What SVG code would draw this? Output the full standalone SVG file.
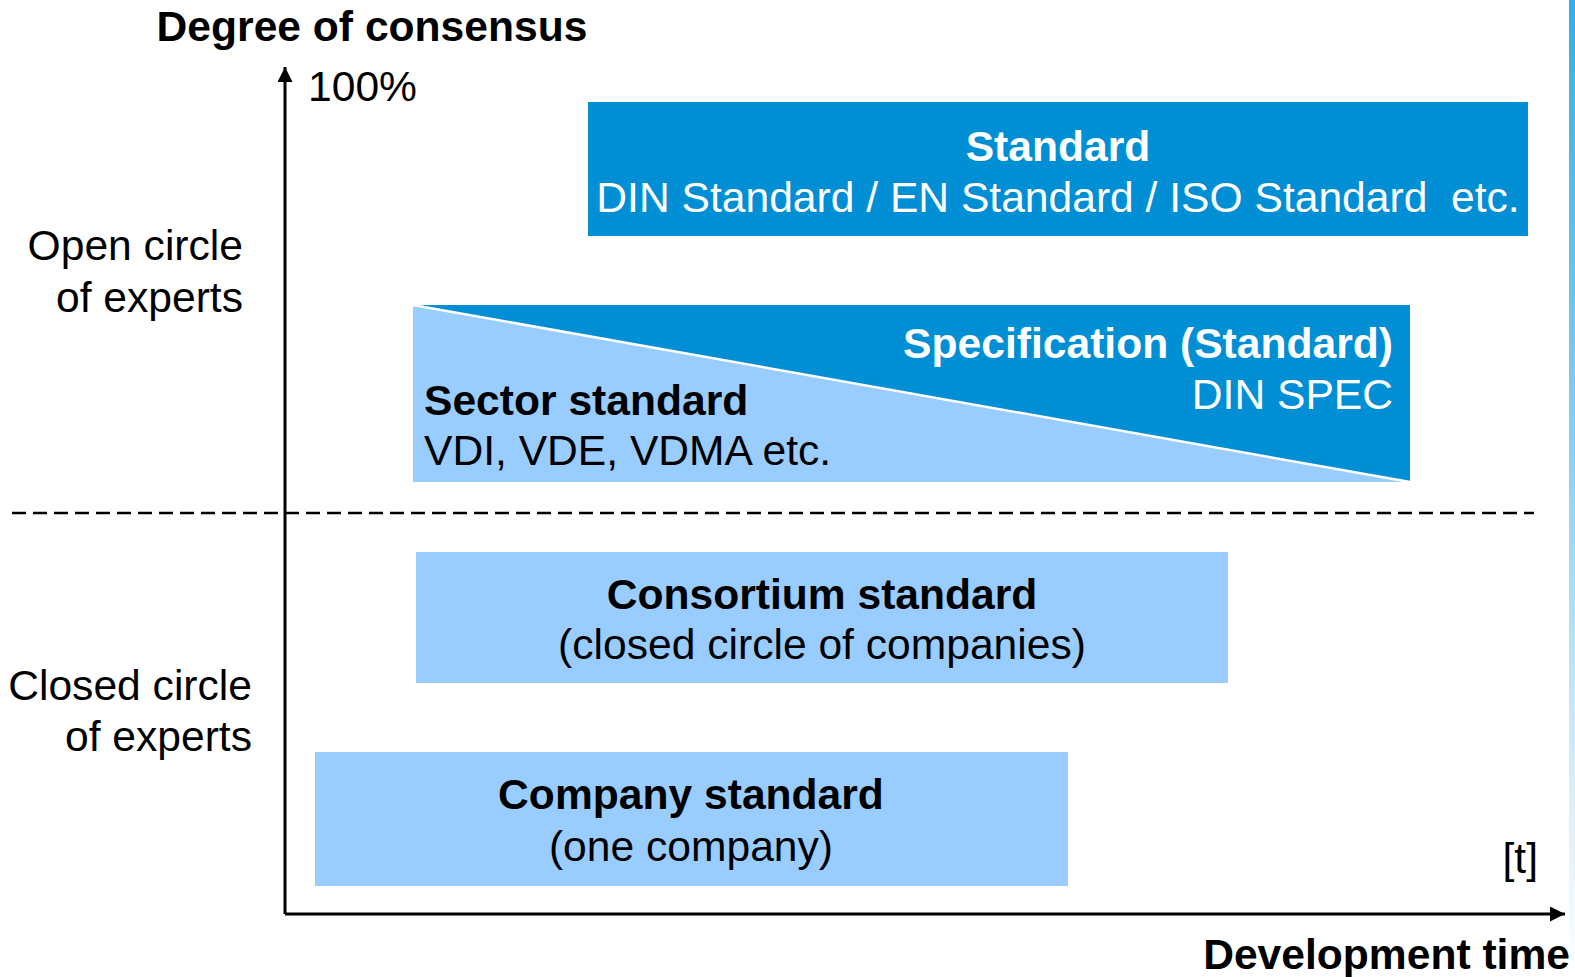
<svg xmlns="http://www.w3.org/2000/svg" width="1575" height="977" viewBox="0 0 1575 977">
<style>
text{font-family:"Liberation Sans",Arial,sans-serif;font-size:42.6px;fill:#000}
.b{font-weight:bold}
.w{fill:#fff}
.dark{fill:#008fd5}
.light{fill:#99ccff}
.ax{stroke:#000;stroke-width:3;fill:none}
</style>
<defs>
<linearGradient id="strip" x1="0" y1="0" x2="0" y2="1">
<stop offset="0" stop-color="#38ace8"/>
<stop offset="0.35" stop-color="#72c8f1"/>
<stop offset="1" stop-color="#ffffff"/>
</linearGradient>
<marker id="arr" viewBox="0 0 10 10" refX="10" refY="5" markerWidth="5" markerHeight="5" orient="auto" markerUnits="strokeWidth">
<path d="M0,0 L10,5 L0,10 Z" fill="#000"/>
</marker>
</defs>
<rect width="1575" height="977" fill="#fff"/>
<rect x="1569" y="0" width="6" height="977" fill="url(#strip)"/>

<g id="connectors">
<line x1="12" y1="513" x2="1534" y2="513" stroke="#000" stroke-width="2.5" stroke-dasharray="14,7"/>
<line class="ax" x1="285" y1="914" x2="285" y2="67" marker-end="url(#arr)"/>
<line class="ax" x1="285" y1="914" x2="1565" y2="914" marker-end="url(#arr)"/>
</g>

<g id="axis-labels">
<text class="b" x="372" y="41" text-anchor="middle">Degree of consensus</text>
<text x="308" y="101">100%</text>
<text x="243" y="260" text-anchor="end">Open circle</text>
<text x="243" y="312" text-anchor="end">of experts</text>
<text x="252" y="700" text-anchor="end">Closed circle</text>
<text x="252" y="751" text-anchor="end">of experts</text>
<text x="1538" y="873" text-anchor="end">[t]</text>
<text class="b" x="1570" y="969" text-anchor="end">Development time</text>
</g>

<g id="standard">
<rect class="dark" x="588" y="102" width="940" height="134"/>
<text class="b w" x="1058" y="161" text-anchor="middle">Standard</text>
<text class="w" x="1058" y="212" text-anchor="middle" xml:space="preserve">DIN Standard / EN Standard / ISO Standard  etc.</text>
</g>

<g id="specification">
<rect class="light" x="413" y="305" width="997" height="177"/>
<polygon class="dark" points="413,305 1410,305 1410,482"/>
<line x1="413" y1="305" x2="1410" y2="482" stroke="#fff" stroke-width="2.5"/>
<text class="b w" x="1393" y="358" text-anchor="end">Specification (Standard)</text>
<text class="w" x="1393" y="409" text-anchor="end">DIN SPEC</text>
<text class="b" x="424" y="415">Sector standard</text>
<text x="424" y="465">VDI, VDE, VDMA etc.</text>
</g>

<g id="consortium">
<rect class="light" x="416" y="552" width="812" height="131"/>
<text class="b" x="822" y="609" text-anchor="middle">Consortium standard</text>
<text x="822" y="659" text-anchor="middle">(closed circle of companies)</text>
</g>

<g id="company">
<rect class="light" x="315" y="752" width="753" height="134"/>
<text class="b" x="691" y="809" text-anchor="middle">Company standard</text>
<text x="691" y="861" text-anchor="middle">(one company)</text>
</g>
</svg>
